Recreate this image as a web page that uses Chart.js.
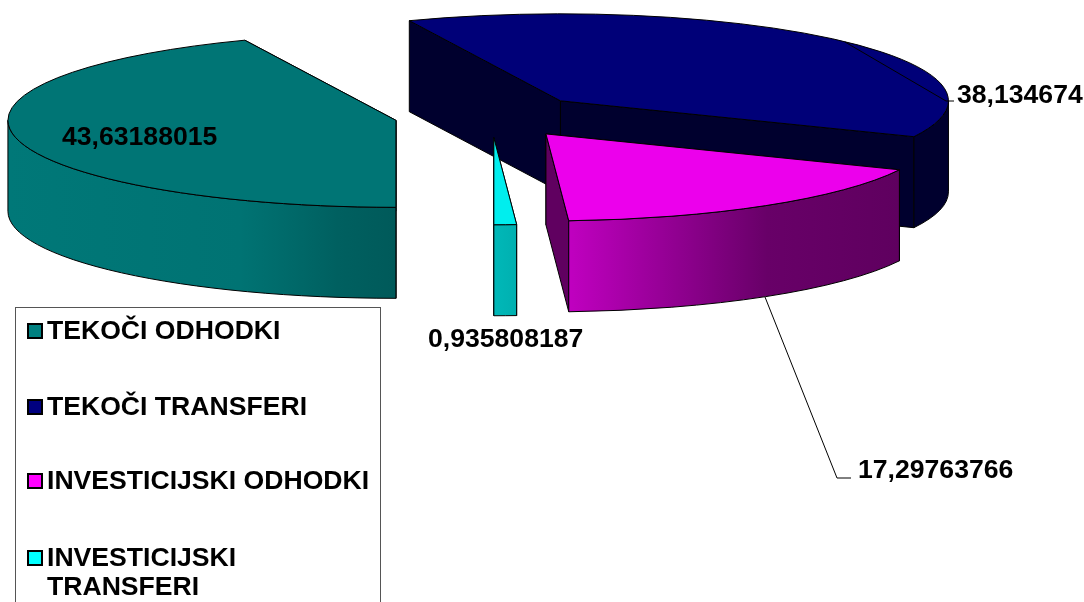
<!DOCTYPE html>
<html>
<head>
<meta charset="utf-8">
<title>Odhodki</title>
<script src="https://cdn.jsdelivr.net/npm/chart.js@4/dist/chart.umd.min.js"></script>
<style>
  html, body { margin: 0; padding: 0; background: #fff; overflow: hidden; }
  canvas { display: block; }
</style>
</head>
<body>
<canvas id="pieChart" width="1084" height="602"></canvas>
<script>
const categories = ['TEKOČI ODHODKI', 'TEKOČI TRANSFERI', 'INVESTICIJSKI ODHODKI', 'INVESTICIJSKI TRANSFERI'];
const values = [43.63188015, 38.134674, 17.29763766, 0.935808187];

const topColors = ['#007575', '#000078', '#ec00ec', '#00eeee'];
const swatchColors = ['#008080', '#000080', '#ff00ff', '#00ffff'];
const faceColors = ['#005f5f', '#00002e', '#600060', '#008a8a'];
const wallStops = [
  [[0, '#007878'], [0.6, '#007373'], [0.85, '#006060'], [1, '#005a5a']],
  [[0, '#00002e'], [1, '#00002e']],
  [[0, '#c000c0'], [0.6, '#680068'], [1, '#5f005f']],
  [[0, '#00b8b8'], [1, '#00b0b0']]
];

// projection of the flat pie onto the page
const pie3d = { cx: 491, cy: 116, rx: 388, ry: 87, depth: 91, explode: 97 };
const drawOrder = [0, 1, 3, 2];
const FONT = 'bold 26.6px "Liberation Sans", Arial, sans-serif';

const valueLabels = [
  { x: 62, y: 145 },
  { x: 957, y: 103, leader: [[845, 42], [946, 101], [954, 101]] },
  { x: 858, y: 478, leader: [[765, 297], [837, 478], [851, 478]] },
  { x: 428, y: 347 }
];

function drawSlice(ctx, arc, i) {
  const { cx, cy, rx, ry, depth, explode } = pie3d;
  const a0 = arc.startAngle, a1 = arc.endAngle, mid = (a0 + a1) / 2;
  const ox = cx + Math.cos(mid) * explode;
  const oy = cy + Math.sin(mid) * explode * ry / rx;
  const rim = a => [ox + Math.cos(a) * rx, oy + Math.sin(a) * ry];

  ctx.save();
  ctx.strokeStyle = '#000';
  ctx.lineWidth = 1;
  ctx.lineJoin = 'round';

  // the two cut faces
  [a0, a1].forEach(a => {
    const p = rim(a);
    ctx.beginPath();
    ctx.moveTo(ox, oy);
    ctx.lineTo(p[0], p[1]);
    ctx.lineTo(p[0], p[1] + depth);
    ctx.lineTo(ox, oy + depth);
    ctx.closePath();
    ctx.fillStyle = faceColors[i];
    ctx.fill();
    ctx.stroke();
  });

  // outer wall, only the part that faces the viewer
  const k = Math.floor(Math.max(a0, 0) / (2 * Math.PI));
  for (let n = k; n <= k + 1; n++) {
    const w0 = Math.max(a0, 2 * Math.PI * n);
    const w1 = Math.min(a1, 2 * Math.PI * n + Math.PI);
    if (w1 <= w0) continue;
    const xs = [rim(w0)[0], rim(w1)[0]];
    if (w0 < 2 * Math.PI * n + Math.PI / 2 && w1 > 2 * Math.PI * n + Math.PI / 2) xs.push(ox);
    const grad = ctx.createLinearGradient(Math.min(...xs), 0, Math.max(...xs), 0);
    wallStops[i].forEach(s => grad.addColorStop(s[0], s[1]));
    ctx.beginPath();
    ctx.ellipse(ox, oy, rx, ry, 0, w0, w1);
    ctx.ellipse(ox, oy + depth, rx, ry, 0, w1, w0, true);
    ctx.closePath();
    ctx.fillStyle = grad;
    ctx.fill();
    ctx.stroke();
  }

  // top face: the library's own arc, squashed
  ctx.save();
  ctx.translate(ox, oy);
  ctx.scale(rx / arc.outerRadius, ry / arc.outerRadius);
  ctx.translate(-arc.x, -arc.y);
  arc.draw(ctx);
  ctx.restore();

  ctx.beginPath();
  ctx.moveTo(ox, oy);
  ctx.ellipse(ox, oy, rx, ry, 0, a0, a1);
  ctx.closePath();
  ctx.stroke();
  ctx.restore();
}

const pie3dPlugin = {
  id: 'pie3d',
  beforeDatasetDraw(chart) {
    const ctx = chart.ctx;
    const arcs = chart.getDatasetMeta(0).data;
    drawOrder.forEach(i => drawSlice(ctx, arcs[i], i));
    return false;
  },
  afterDraw(chart) {
    const ctx = chart.ctx;
    ctx.save();
    ctx.font = FONT;
    ctx.textBaseline = 'alphabetic';
    ctx.textAlign = 'left';

    // value labels and leader lines
    values.forEach((v, i) => {
      const lab = valueLabels[i];
      if (lab.leader) {
        ctx.beginPath();
        lab.leader.forEach((p, j) => j ? ctx.lineTo(p[0], p[1]) : ctx.moveTo(p[0], p[1]));
        ctx.strokeStyle = '#000';
        ctx.lineWidth = 1;
        ctx.stroke();
      }
      ctx.fillStyle = '#000';
      ctx.fillText(String(v).replace('.', ','), lab.x, lab.y);
    });

    // legend box, runs off the bottom of the page like the original
    ctx.strokeStyle = '#555';
    ctx.lineWidth = 1;
    ctx.strokeRect(15.5, 307.5, 365, 310);
    const baselines = [339, 415, 489, 566];
    categories.forEach((name, i) => {
      ctx.fillStyle = swatchColors[i];
      ctx.fillRect(28, baselines[i] - 15, 14, 14);
      ctx.strokeStyle = '#000';
      ctx.lineWidth = 2;
      ctx.strokeRect(28, baselines[i] - 15, 14, 14);
      ctx.fillStyle = '#000';
      const lines = name === 'INVESTICIJSKI TRANSFERI' ? name.split(' ') : [name];
      lines.forEach((t, j) => ctx.fillText(t, 47, baselines[i] + j * 29));
    });
    ctx.restore();
  }
};

new Chart(document.getElementById('pieChart').getContext('2d'), {
  type: 'pie',
  data: {
    labels: categories,
    datasets: [{
      data: values,
      backgroundColor: topColors,
      borderWidth: 0
    }]
  },
  options: {
    responsive: false,
    animation: false,
    rotation: 180,
    plugins: {
      legend: { display: false },
      tooltip: { enabled: false }
    }
  },
  plugins: [pie3dPlugin]
});
</script>
</body>
</html>
